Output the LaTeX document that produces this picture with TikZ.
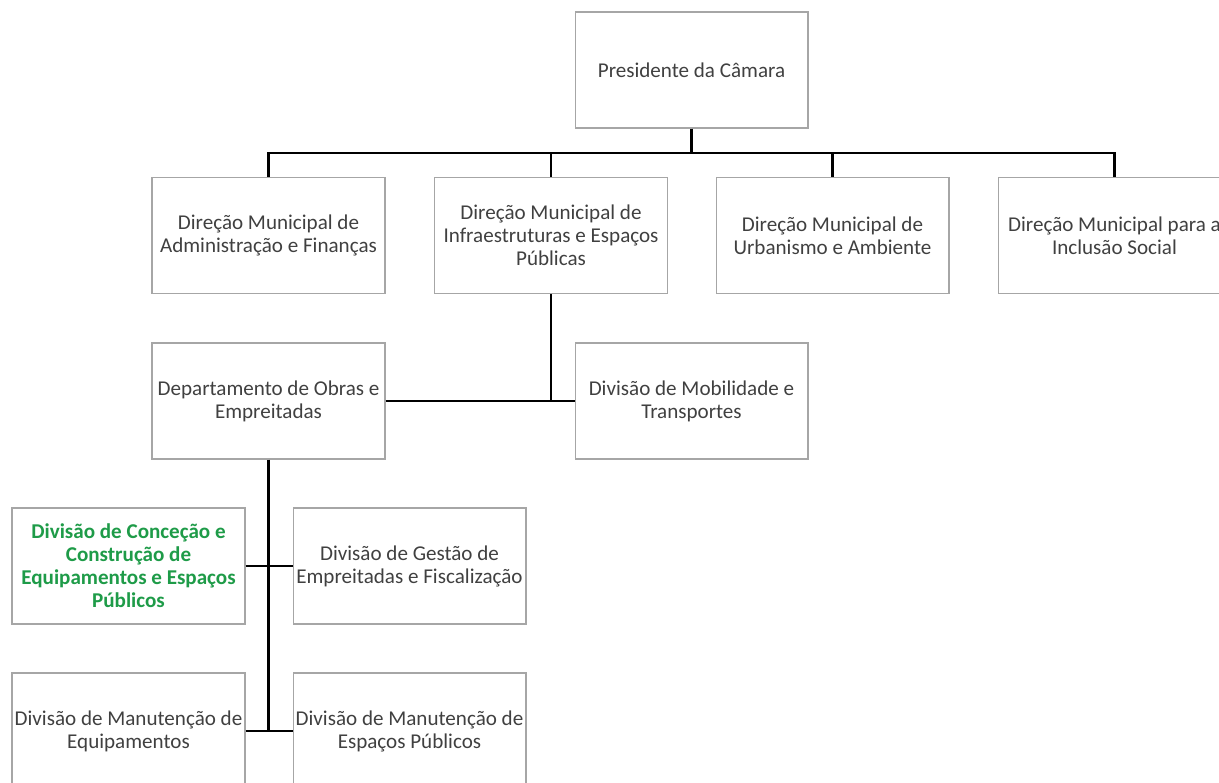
\documentclass[tikz,border=0pt]{standalone}
\usepackage{fontspec}
\setmainfont{Carlito}
\definecolor{boxgray}{RGB}{166,166,166}
\definecolor{txtgray}{RGB}{64,64,64}
\definecolor{unitgreen}{RGB}{30,155,72}
\tikzset{
  unit/.style={draw=boxgray,line width=0.6pt,minimum width=4.66cm,minimum height=2.32cm,
    inner xsep=0.5pt,align=center,text=txtgray,font=\fontsize{12}{13.1}\selectfont},
  link/.style={line width=1.4pt,black}
}
\begin{document}
\begin{tikzpicture}[x=0.02cm,y=-0.02cm]

	\useasboundingbox (0,0) rectangle (1219,783);
	\clip (0,0) rectangle (1219,783);

	% top
	\node[unit] (pres) at (691.5,70) {Presidente da Câmara};

	% direcoes municipais
	\node[unit] (dmaf) at (268.5,235.5) {Direção Municipal de\\Administração e Finanças};
	\node[unit] (dmie) at (551,235.5) {Direção Municipal de\\Infraestruturas e Espaços\\Públicas};
	\node[unit] (dmua) at (832.5,235.5) {Direção Municipal de\\Urbanismo e Ambiente};
	\node[unit] (dmis) at (1114.5,235.5) {Direção Municipal para a\\Inclusão Social};

	\coordinate (bus) at (691.5,153);
	\draw[link] (pres.south) -- (bus);
	\draw[link] (dmaf.north) |- (bus) -| (dmis.north);
	\draw[link] (dmie.north) -- (dmie.north |- bus);
	\draw[link] (dmua.north) -- (dmua.north |- bus);

	% level 3
	\node[unit] (doe) at (268.5,401) {Departamento de Obras e\\Empreitadas};
	\node[unit] (dmt) at (691.5,401) {Divisão de Mobilidade e\\Transportes};

	\draw[link] (dmie.south) |- (doe.east);
	\draw[link] (doe.east) -- (dmt.west);

	% divisoes
	\node[unit,text=unitgreen,font=\fontsize{12}{13.1}\selectfont\bfseries] (dcc) at (128.5,566)
	    {Divisão de Conceção e\\Construção de\\Equipamentos e Espaços\\Públicos};
	\node[unit] (dgef) at (409.5,566) {Divisão de Gestão de\\Empreitadas e Fiscalização};
	\node[unit] (dme) at (128.5,731) {Divisão de Manutenção de\\Equipamentos};
	\node[unit] (dmep) at (409.5,731) {Divisão de Manutenção de\\Espaços Públicos};

	\draw[link] (doe.south) -- (doe.south |- dme.east);
	\draw[link] (dcc.east) -- (dgef.west);
	\draw[link] (dme.east) -- (dmep.west);

\end{tikzpicture}
\end{document}
